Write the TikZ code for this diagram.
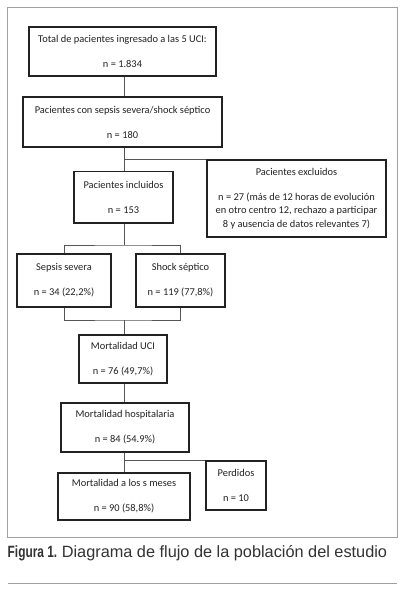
\documentclass[tikz,border=0pt]{standalone}
\usepackage{fontspec}
\setmainfont{Carlito}
\newfontfamily\capfont{Liberation Sans}
\usetikzlibrary{positioning}
\definecolor{boxline}{HTML}{222222}
\definecolor{connline}{HTML}{555555}
\definecolor{framegray}{HTML}{A0A0A0}
\definecolor{captext}{HTML}{333333}
\tikzset{
  flowbox/.style={draw=boxline, line width=1.3pt, inner sep=0pt, align=center,
    text=boxline, font=\fontsize{10.4}{25}\selectfont},
  conn/.style={draw=connline, line width=0.9pt},
}
\begin{document}
\begin{tikzpicture}[x=1pt,y=-1pt]
\useasboundingbox (0,0) rectangle (400,592);
\fill[white] (0,0) rectangle (400,592);
\draw[framegray, line width=1pt] (7.5,7) rectangle (397,537);
\coordinate (sx) at (124,0);
% boxes
\node[flowbox, minimum width=187pt, minimum height=49pt] (b1) at (122.5,51.5)
  {Total de pacientes ingresado a las 5 UCI:\\n = 1.834};
\node[flowbox, minimum width=199pt, minimum height=50pt] (b2) at (122.5,122)
  {Pacientes con sepsis severa/shock séptico\\n = 180};
\node[flowbox, minimum width=99pt, minimum height=51.5pt] (incl) at (123.5,197.25)
  {Pacientes incluidos\\n = 153};
\node[flowbox, minimum width=179pt, minimum height=77pt,
  font=\fontsize{10.4}{13.5}\selectfont] (excl) at (296.5,198.5)
  {Pacientes excluidos\\[11.5pt]n = 27 (más de 12 horas de evolución\\en otro centro 12, rechazo a participar\\8 y ausencia de datos relevantes 7)};
\node[flowbox, minimum width=94pt, minimum height=53pt] (sep) at (64,280.5)
  {Sepsis severa\\n = 34 (22,2\%)};
\node[flowbox, minimum width=89pt, minimum height=53pt] (shock) at (180.5,280.5)
  {Shock séptico\\n = 119 (77,8\%)};
\node[flowbox, minimum width=88pt, minimum height=48pt] (uci) at (123,359)
  {Mortalidad UCI\\n = 76 (49,7\%)};
\node[flowbox, minimum width=128pt, minimum height=49pt] (hosp) at (125,427.5)
  {Mortalidad hospitalaria\\n = 84 (54.9\%)};
\node[flowbox, minimum width=60pt, minimum height=49pt] (perd) at (236,485.5)
  {Perdidos\\n = 10};
\node[flowbox, minimum width=132pt, minimum height=47pt] (meses) at (124,496.5)
  {Mortalidad a los s meses\\n = 90 (58,8\%)};
% connectors
\draw[conn] (b1.south -| sx) -- (b2.north -| sx);
\draw[conn] (b2.south -| sx) |- (excl.north west);
\draw[conn] (b2.south -| sx) -- (incl.north -| sx);
\coordinate (jA) at (124,245);
\coordinate (jB) at (124,320);
\draw[conn] (incl.south -| sx) -- (jA);
\draw[conn] (sep.north) |- (jA) -| (shock.north);
\draw[conn] (sep.south) |- (jB) -| (shock.south);
\draw[conn] (jB) -- (uci.north -| sx);
\draw[conn] (uci.south -| sx) -- (hosp.north -| sx);
\draw[conn] (hosp.south -| sx) |- (perd.north west);
\draw[conn] (hosp.south -| sx) -- (meses.north -| sx);
% caption
\node[anchor=base west, inner sep=0pt, text=captext, font=\capfont\fontsize{16.3}{18}\selectfont] (cap) at (7.5,557)
  {\scalebox{0.73}[1]{\bfseries Figura 1.} Diagrama de flujo de la población del estudio};
\draw[framegray, line width=1pt] (7.5,583) -- (397,583);
\end{tikzpicture}
\end{document}
